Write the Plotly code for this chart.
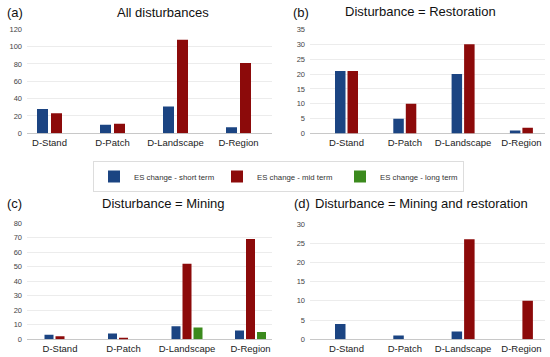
import plotly.graph_objects as go

categories = ["D-Stand", "D-Patch", "D-Landscape", "D-Region"]
series_names = ["ES change - short term", "ES change - mid term", "ES change - long term"]

a_short = [28, 10, 31, 7]
a_mid = [23, 11, 108, 81]

b_short = [21, 5, 20, 1]
b_mid = [21, 10, 30, 2]

c_short = [3, 4, 9, 6]
c_mid = [2, 1, 52, 69]
c_long = [0, 0, 8, 5]

d_short = [4, 1, 2, 0]
d_mid = [0, 0, 26, 10]

y_ticks_a = [0, 20, 40, 60, 80, 100, 120]
y_ticks_b = [0, 5, 10, 15, 20, 25, 30, 35]
y_ticks_c = [0, 10, 20, 30, 40, 50, 60, 70, 80]
y_ticks_d = [0, 5, 10, 15, 20, 25, 30]

titles = ["All disturbances", "Disturbance = Restoration",
          "Disturbance = Mining", "Disturbance = Mining and restoration"]
panel_tags = ["(a)", "(b)", "(c)", "(d)"]

colors = ["#1b4482", "#8c0a0a", "#3b8a1d"]

W, H = 550, 357
font_family = "Liberation Sans, Arial, sans-serif"

# layout style per panel (pixels): plot left/right, plot top/bottom,
# first category centre, category spacing, bar slot width, bar width
panel_styles = [
    dict(x0=27, x1=272, top=29.3, bot=133.3, c0=49.5, sp=63.0, slot=14.0, bar=11.0),
    dict(x0=310, x1=545, top=29.3, bot=133.6, c0=346.5, sp=58.3, slot=12.5, bar=10.5),
    dict(x0=27, x1=272, top=223.0, bot=339.2, c0=60.0, sp=63.5, slot=11.0, bar=9.0),
    dict(x0=310, x1=545, top=224.0, bot=339.3, c0=346.5, sp=58.3, slot=12.5, bar=10.5),
]

panels = [
    ("x", "y", [a_short, a_mid], y_ticks_a),
    ("x2", "y2", [b_short, b_mid], y_ticks_b),
    ("x3", "y3", [c_short, c_mid, c_long], y_ticks_c),
    ("x4", "y4", [d_short, d_mid], y_ticks_d),
]

fig = go.Figure()
layout_axes = {}

for pi, (xa, ya, series, yt) in enumerate(panels):
    st = panel_styles[pi]
    n = len(series)
    sp = st["sp"]
    width_u = st["bar"] / sp
    for si, vals in enumerate(series):
        off = (si - n / 2) * st["slot"] / sp + (st["slot"] - st["bar"]) / (2 * sp)
        fig.add_trace(go.Bar(
            x=categories, y=vals, xaxis=xa, yaxis=ya,
            name=series_names[si],
            marker=dict(color=colors[si], line=dict(width=0)),
            width=width_u, offset=off,
            showlegend=(pi == 2),
            legendrank=si,
            hoverinfo="skip",
        ))
    x_range = [-(st["c0"] - st["x0"]) / sp,
               len(categories) - 1 + (st["x1"] - (st["c0"] + (len(categories) - 1) * sp)) / sp]
    xkey = "xaxis" + ("" if pi == 0 else str(pi + 1))
    ykey = "yaxis" + ("" if pi == 0 else str(pi + 1))
    layout_axes[xkey] = dict(
        domain=[st["x0"] / W, st["x1"] / W], anchor=ya, type="category",
        range=x_range, automargin=False,
        tickfont=dict(size=9.5, color="#222", family=font_family),
        showgrid=False, showline=False, ticks="", ticklen=0, ticklabelstandoff=2)
    layout_axes[ykey] = dict(
        domain=[1 - st["bot"] / H, 1 - st["top"] / H], anchor=xa,
        range=[0, yt[-1]], automargin=False,
        tickvals=yt, tickfont=dict(size=7.5, color="#444", family=font_family),
        showgrid=True, gridcolor="#ececec", gridwidth=1,
        zeroline=True, zerolinecolor="#c8c8c8", zerolinewidth=1,
        showline=False, ticks="", ticklabelstandoff=4)

fig.update_layout(
    width=W, height=H,
    margin=dict(l=0, r=0, t=0, b=0, autoexpand=False),
    paper_bgcolor="white", plot_bgcolor="white",
    barmode="group",
    font=dict(family=font_family, color="#222"),
    legend=dict(orientation="h", x=93/W, y=1 - 161/H, xanchor="left", yanchor="top",
                bordercolor="#dddddd", borderwidth=1, bgcolor="white",
                font=dict(size=7.8, color="#333", family=font_family),
                entrywidth=78, entrywidthmode="pixels",
                tracegroupgap=0, itemclick=False, itemdoubleclick=False),
    **layout_axes,
)

# titles and panel tags
title_pos = [(163, 13), (420, 12), (163, 203), (422, 203)]
tag_pos = [(5, 13), (291, 13), (5, 203), (292, 203)]
for i in range(4):
    tx, ty = title_pos[i]
    fig.add_annotation(text=titles[i], x=tx/W, y=1 - ty/H, xref="paper", yref="paper",
                       showarrow=False, xanchor="center", yanchor="middle",
                       font=dict(size=13, color="#111", family=font_family))
    gx, gy = tag_pos[i]
    fig.add_annotation(text=panel_tags[i], x=gx/W, y=1 - gy/H, xref="paper", yref="paper",
                       showarrow=False, xanchor="left", yanchor="middle",
                       font=dict(size=13, color="#111", family=font_family))

fig.write_html("out.html", config={"displayModeBar": False},
               post_script="document.body.style.margin='0px';")
